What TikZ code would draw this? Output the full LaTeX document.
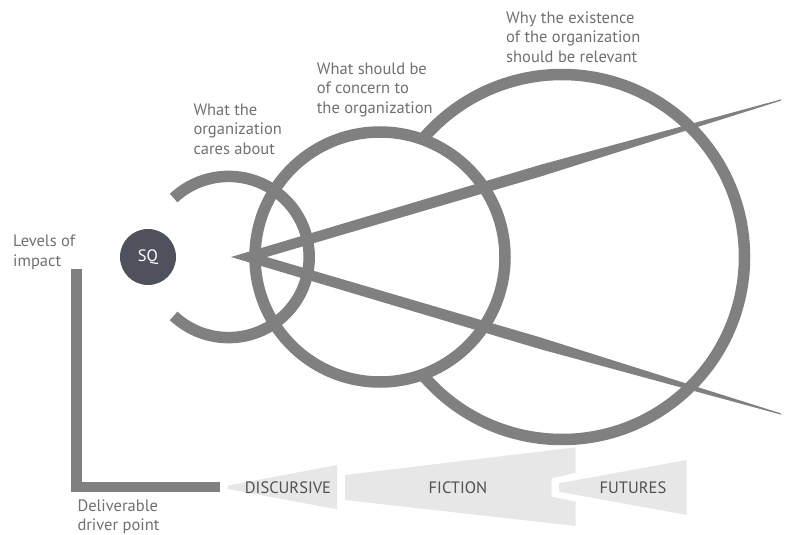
\documentclass[tikz,border=0pt]{standalone}
\usepackage{fontspec}
\setmainfont{PT Sans}
\definecolor{strokegray}{HTML}{808080}
\definecolor{sqfill}{HTML}{4F525C}
\definecolor{bandfill}{HTML}{E6E7E6}
\definecolor{lbltext}{HTML}{707070}
\definecolor{bandtext}{HTML}{505050}
\begin{document}
\begin{tikzpicture}[x=1pt,y=-1pt,
  ring/.style={draw=strokegray,line width=11.5pt,line cap=butt},
  wedge/.style={fill=strokegray,draw=none},
  bandshape/.style={fill=bandfill,draw=none},
  lbl/.style={anchor=base west,inner sep=0pt,align=left,text=lbltext,
    font=\fontsize{16.5}{19.5}\selectfont},
  bandlbl/.style={inner sep=0pt,text=bandtext,font=\fontsize{16.5}{19.5}\selectfont},
  axis/.style={draw=strokegray,line width=10.5pt,line cap=butt,line join=miter}]
\useasboundingbox (0,0) rectangle (788,535);
% centres
\coordinate (cS) at (228.6,257);
\coordinate (cM) at (380,257);
\coordinate (cL) at (562,257);
% small ring (open on the left)
\draw[ring] ([shift={(-133:80.6pt)}]cS) arc[start angle=-133,end angle=133,radius=80.6pt];
% medium ring
\draw[ring] (cM) circle[radius=125pt];
% large ring (hidden inside the medium one)
\draw[ring] ([shift={(-140:182.5pt)}]cL) arc[start angle=-140,end angle=140,radius=182.5pt];
% wedge rays
\coordinate (apex) at (231,257);
\coordinate (crotch) at (266.7,257);
\fill[wedge] (apex) -- (540,164.9) -- (781,99.4) -- (781,100.6) -- (540,176.7) -- (crotch) -- cycle;
\fill[wedge] (apex) -- (540,349.1) -- (781,414.6) -- (781,413.4) -- (540,337.3) -- (crotch) -- cycle;
% SQ
\node[circle,fill=sqfill,minimum size=56pt,inner sep=0pt,text=white,
  font=\fontsize{16.5}{19.5}\selectfont] (sq) at (148,257) {SQ};
% axis
\coordinate (axtop) at (76.7,269);
\coordinate (axcorner) at (76.7,487);
\coordinate (axend) at (220,487);
\draw[axis] (axtop) -- (axcorner) -- (axend);
% bands
\fill[bandshape] (228,485.5) -- (337,465) -- (337,509.3) -- (228,489) -- cycle;
\fill[bandshape] (345,475) -- (575.7,447.3) -- (575.7,472.7) -- (551.7,478.3) -- (551.7,496.7) -- (575.7,501.7) -- (575.7,526) -- (345,500) -- cycle;
\fill[bandshape] (559,483.3) -- (686.7,460) -- (686.7,515) -- (559,491.7) -- cycle;
\node[bandlbl] (disc) at (288,488) {DISCURSIVE};
\node[bandlbl] (fict) at (458,488) {FICTION};
\node[bandlbl] (fut) at (633,488) {FUTURES};
% labels (anchored at the baseline of their last line)
\node[lbl] (levels) at (13,266) {Levels of\\impact};
\node[lbl] (deliv) at (77.3,530.5) {Deliverable\\driver point};
\node[lbl] (cares) at (193.3,154.3) {What the\\organization\\cares about};
\node[lbl] (concern) at (316.7,113.3) {What should be\\of concern to\\the organization};
\node[lbl] (why) at (506,62.3) {Why the existence\\of the organization\\should be relevant};
\end{tikzpicture}
\end{document}
